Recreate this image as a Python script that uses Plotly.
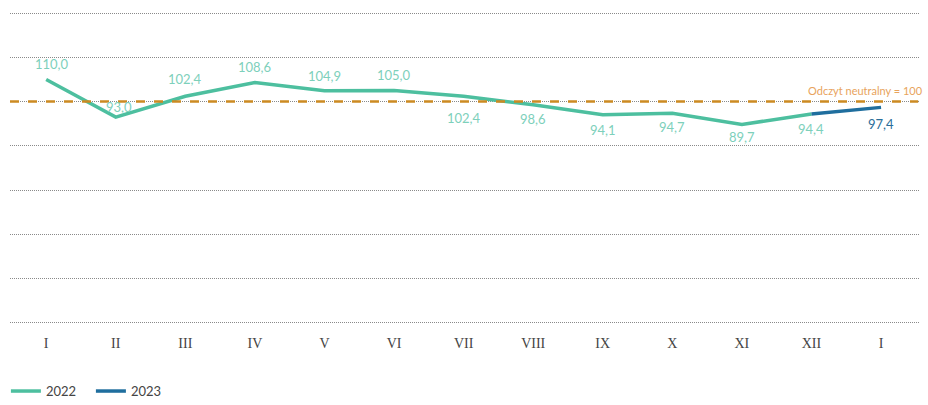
import plotly.graph_objects as go

months = ["I", "II", "III", "IV", "V", "VI", "VII", "VIII", "IX", "X", "XI", "XII", "I"]
values_2022 = [110.0, 93.0, 102.4, 108.6, 104.9, 105.0, 102.4, 98.6, 94.1, 94.7, 89.7, 94.4]
values_2023 = [94.4, 97.4]
neutral_value = 100
neutral_label = "Odczyt neutralny = 100"

# style: vertical label offsets in px (positive = above)
label_yshift = [15, 10, 17, 16, 15, 16, -22, -14, -15, -14, -13, -15, -17]
label_xshift = [6, 3, 0, 0, 0, 0, 0, 0, 0, 0, 0, 0, 0]

C2022 = "#4DBF9F"
C2023 = "#1F6E9E"
LBL2022 = "#7DD0BB"
LBL2023 = "#2A6E99"

x_idx = list(range(len(months)))
x2022 = x_idx[:len(values_2022)]
x2023 = x_idx[len(values_2022) - 1:]

fig = go.Figure()
fig.add_trace(go.Scatter(x=x2022, y=values_2022, mode="lines", name="2022",
                         line=dict(color=C2022, width=3.5)))
fig.add_trace(go.Scatter(x=x2023, y=values_2023, mode="lines", name="2023",
                         line=dict(color=C2023, width=3.5)))

all_vals = values_2022 + values_2023[1:]
for i, v in enumerate(all_vals):
    is23 = i >= len(values_2022)
    fig.add_annotation(x=x_idx[i], y=v, text=f"{v:.1f}".replace(".", ","),
                       showarrow=False, yshift=label_yshift[i], xshift=label_xshift[i],
                       font=dict(family="Lato", size=13,
                                 color=LBL2023 if is23 else LBL2022))

fig.add_shape(type="line", xref="paper", yref="y", x0=0, x1=0.998,
              y0=neutral_value, y1=neutral_value,
              line=dict(color="#CC8A22", width=2.5, dash="dash"))
fig.add_annotation(xref="paper", yref="y", x=1.006, y=neutral_value, yshift=11,
                   xanchor="right", text=neutral_label, showarrow=False,
                   font=dict(family="Lato", size=11, color="#E8A35C"))

fig.update_layout(
    width=928, height=405,
    margin=dict(l=10, r=8, t=12, b=81, autoexpand=False),
    plot_bgcolor="white", paper_bgcolor="white",
    showlegend=True,
    legend=dict(orientation="h", x=-0.0045, xanchor="left", y=-0.215, yref="paper",
                yanchor="middle", font=dict(family="Lato", size=13, color="#444"),
                itemwidth=30, entrywidth=40, tracegroupgap=0),
    xaxis=dict(tickmode="array", tickvals=x_idx, ticktext=months,
               range=[-0.52, 12.56], showgrid=False, zeroline=False, showline=False,
               ticks="", ticklabelstandoff=9,
               tickfont=dict(family="Liberation Serif", size=14, color="#444")),
    yaxis=dict(range=[-0.5, 140.5], tickmode="array",
               tickvals=[0, 20, 40, 60, 80, 100, 120, 140],
               showticklabels=False, showgrid=True,
               gridcolor="#8a8a8a", griddash="1px,1px", gridwidth=1, zeroline=False,
               showline=False),
)

fig.write_html("out.html", config={"displayModeBar": False},
               post_script="document.body.style.margin='0';document.body.style.overflow='hidden';")
